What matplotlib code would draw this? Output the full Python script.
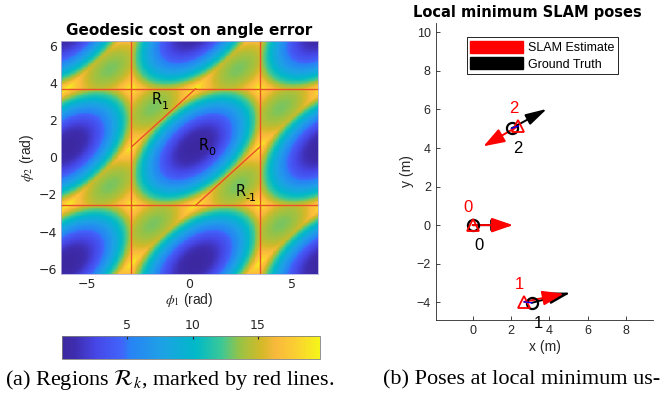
import numpy as np
import matplotlib
matplotlib.use("Agg")
import matplotlib.pyplot as plt
from matplotlib.colors import LinearSegmentedColormap
from matplotlib.patches import Patch, FancyArrowPatch

plt.rcParams['font.family'] = ['Liberation Sans', 'DejaVu Sans']
plt.rcParams['mathtext.fontset'] = 'stix'

# --- panel (a): geodesic angle cost ---
phi1_min = 0.30      # centre of region R_0 (rad)
phi2_min = 0.56
region_subs = ["1", "0", "-1"]
region_label_x = [-1.59, 0.70, 2.51]
region_label_y = [3.10, 0.62, -1.85]
cbar_ticks = [5, 10, 15]

# --- panel (b): poses ---
gt_x = [0.0, 3.08, 2.03]
gt_y = [0.0, -4.03, 5.02]
gt_theta_deg = [0.0, 14.6, 28.7]
est_x = [0.0, 2.69, 2.38]
est_y = [0.0, -3.98, 5.14]
est_theta_deg = [0.0, 11.6, 210.0]
arrow_len = 2.1
pose_ids = ["0", "1", "2"]

# colormap sampled from the reference colour bar (parula-like)
cmap_pos = [0.0, 0.05, 0.13, 0.23, 0.26, 0.38, 0.52, 0.62, 0.69, 0.77, 0.83, 0.90, 1.0]
cmap_rgb = [(60, 40, 160), (62, 45, 175), (70, 70, 230), (65, 100, 250), (40, 130, 245),
            (30, 160, 230), (0, 185, 200), (60, 200, 150), (150, 195, 70),
            (210, 185, 40), (250, 185, 60), (250, 205, 50), (245, 245, 25)]
parula = LinearSegmentedColormap.from_list(
    "parula", [(p, tuple(c / 255 for c in rgb)) for p, rgb in zip(cmap_pos, cmap_rgb)])


def wrap(a):
    return (a + np.pi) % (2 * np.pi) - np.pi


fig = plt.figure(figsize=(6.67, 3.98), dpi=100)

ax1 = fig.add_axes([0.0915, 0.3116, 0.3853, 0.5861])
g = np.linspace(-2 * np.pi, 2 * np.pi, 300)
P1, P2 = np.meshgrid(g, g)
u = P1 - phi1_min
v = P2 - phi2_min
cost = wrap(u) ** 2 + wrap(v) ** 2 + wrap(v - u) ** 2
im = ax1.imshow(cost, origin='lower', cmap=parula, aspect='auto',
                extent=[-2 * np.pi, 2 * np.pi, -2 * np.pi, 2 * np.pi],
                interpolation='nearest', vmin=0, vmax=2 * np.pi ** 2)
lc = '#e8502a'
for xv in [phi1_min - np.pi, phi1_min + np.pi]:
    ax1.axvline(xv, color=lc, lw=1)
for yv in [phi2_min - np.pi, phi2_min + np.pi]:
    ax1.axhline(yv, color=lc, lw=1)
ax1.plot([phi1_min - np.pi, phi1_min], [phi2_min, phi2_min + np.pi], color=lc, lw=1)
ax1.plot([phi1_min, phi1_min + np.pi], [phi2_min - np.pi, phi2_min], color=lc, lw=1)
for sub, lx, ly in zip(region_subs, region_label_x, region_label_y):
    ax1.text(lx, ly, 'R', fontsize=10.5, ha='center', va='center', family='DejaVu Sans')
    ax1.annotate(sub, (lx, ly), xytext=(3.5, -4.5), textcoords='offset points',
                 fontsize=8, ha='left', va='center', family='DejaVu Sans')
ax1.set_xlim(-2 * np.pi, 2 * np.pi)
ax1.set_ylim(-2 * np.pi, 2 * np.pi)
ax1.set_xticks([-5, 0, 5])
ax1.set_yticks([-6, -4, -2, 0, 2, 4, 6])
ax1.tick_params(length=0, labelsize=9, colors='#262626', pad=3)
for lab in ax1.get_xticklabels() + ax1.get_yticklabels():
    lab.set_family('DejaVu Sans')
for s in ax1.spines.values():
    s.set_color('#b0b0d8')
    s.set_linewidth(0.6)
ax1.set_xlabel(r'$\phi_1$ (rad)', fontsize=10, color='#262626', labelpad=0)
ax1.set_ylabel(r'$\phi_2$ (rad)', fontsize=10, color='#262626', labelpad=2)
ax1.set_title('Geodesic cost on angle error', fontsize=11, fontweight='bold',
              family='DejaVu Sans', pad=4)

cax = fig.add_axes([0.093, 0.098, 0.3868, 0.0585])
cb = fig.colorbar(im, cax=cax, orientation='horizontal', ticks=cbar_ticks)
cax.xaxis.set_ticks_position('top')
cax.tick_params(direction='in', length=2, labelsize=9, colors='#262626', pad=3)
for lab in cax.get_xticklabels():
    lab.set_family('DejaVu Sans')
cb.outline.set_edgecolor('#808080')
cb.outline.set_linewidth(0.6)

# --- panel (b) ---
ax2 = fig.add_axes([0.6532, 0.196, 0.3262, 0.747])
ax2.set_xlim(-1.93, 9.42)
ax2.set_ylim(-4.92, 10.5)


def draw_arrow(x, y, th_deg, color, hw):
    th = np.deg2rad(th_deg)
    arr = FancyArrowPatch((x, y), (x + arrow_len * np.cos(th), y + arrow_len * np.sin(th)),
                          arrowstyle=f'-|>,head_length=1.3,head_width={hw}',
                          mutation_scale=10, color=color, lw=1.4, shrinkA=0, shrinkB=0)
    ax2.add_patch(arr)


for x, y, th in zip(gt_x, gt_y, gt_theta_deg):
    draw_arrow(x, y, th, 'black', 0.35)
ax2.plot(gt_x, gt_y, 'o', ms=8, mfc='none', mec='black', mew=1.6, ls='none')
for x, y, th in zip(est_x, est_y, est_theta_deg):
    draw_arrow(x, y, th, 'red', 0.45)
ax2.plot(est_x, est_y, '^', ms=9, mfc='none', mec='red', mew=1.3, ls='none')
for gx, gy, ex, ey in zip(gt_x, gt_y, est_x, est_y):
    ax2.plot([gx, ex], [gy, ey], color='blue', lw=1)
for pid, x, y in zip(pose_ids, est_x, est_y):
    ax2.text(x - 0.25, y + 0.9, pid, color='red', fontsize=12, ha='center', va='center')
for pid, x, y in zip(pose_ids, gt_x, gt_y):
    ax2.text(x + 0.35, y - 1.05, pid, color='black', fontsize=12, ha='center',
             va='center', clip_on=False)

ax2.set_xticks([0, 2, 4, 6, 8])
ax2.set_yticks([-4, -2, 0, 2, 4, 6, 8, 10])
ax2.tick_params(direction='in', length=3, labelsize=9, colors='#262626', width=0.6)
for side in ['top', 'right']:
    ax2.spines[side].set_visible(False)
for side in ['left', 'bottom']:
    ax2.spines[side].set_color('#262626')
    ax2.spines[side].set_linewidth(0.6)
ax2.set_xlabel('x (m)', fontsize=10, color='#262626', labelpad=2)
ax2.set_ylabel('y (m)', fontsize=10, color='#262626', labelpad=2)
# MATLAB centres the title on the full position box, left of the equal-aspect plot box
fig.text(0.79, 0.968, 'Local minimum SLAM poses', fontsize=10.5, fontweight='bold',
         family='DejaVu Sans', ha='center', va='center')
handles = [Patch(facecolor='red', edgecolor='red', label='SLAM Estimate'),
           Patch(facecolor='black', edgecolor='black', label='Ground Truth')]
leg = ax2.legend(handles=handles, loc='upper left', bbox_to_anchor=(0.142, 0.951),
                 fontsize=9, handlelength=4.2, handleheight=1.1, fancybox=False,
                 framealpha=1, edgecolor='black', borderpad=0.3, labelspacing=0.25,
                 handletextpad=0.4, borderaxespad=0)
leg.get_frame().set_linewidth(0.6)

fig.text(0.255, 0.045, r'(a) Regions $\mathcal{R}_k$, marked by red lines.',
         family='Liberation Serif', fontsize=16, ha='center', va='center')
fig.text(0.574, 0.045, '(b) Poses at local minimum us-',
         family='Liberation Serif', fontsize=16, ha='left', va='center')

fig.savefig('out.png', dpi=100)
